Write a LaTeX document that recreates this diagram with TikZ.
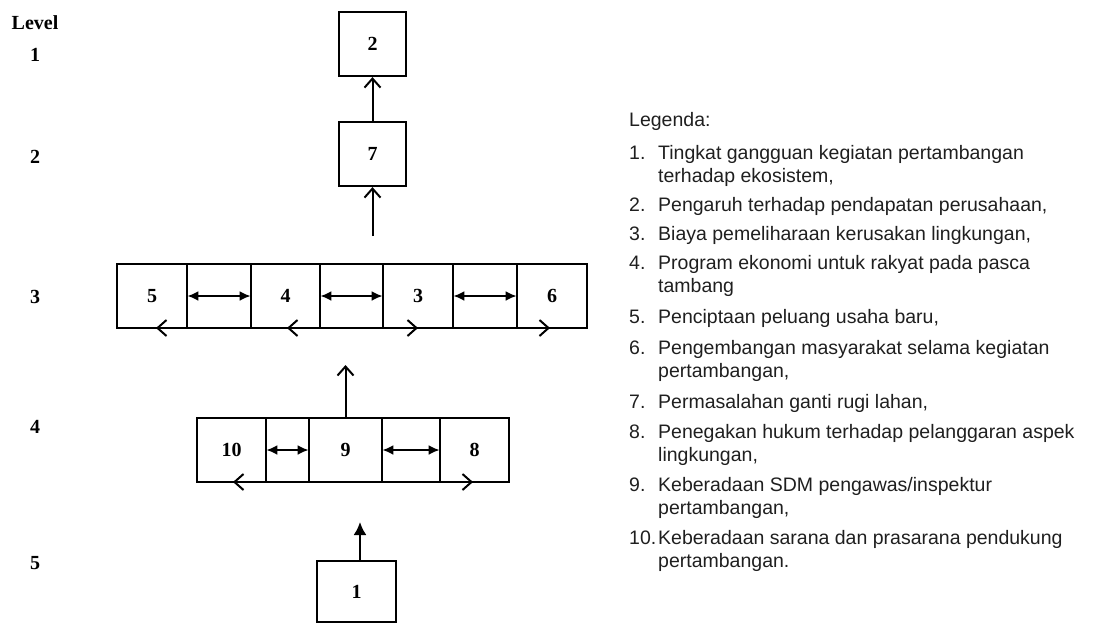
\documentclass[tikz,border=0pt]{standalone}
\usepackage{fontspec}
\setmainfont{Liberation Serif}
\newfontfamily\legfont{Liberation Sans}
\usetikzlibrary{arrows.meta}
\begin{document}
\begin{tikzpicture}[x=1pt,y=-1pt,
  cell/.style={draw, line width=2.2pt, inner sep=0pt, minimum height=64pt,
    font=\bfseries\fontsize{20}{24}\selectfont},
  lvl/.style={font=\bfseries\fontsize{20}{24}\selectfont, inner sep=0pt},
  dbl/.style={line width=2pt, {Latex[length=11pt,width=10pt]}-{Latex[length=11pt,width=10pt]}, shorten <=1.5pt, shorten >=1.5pt},
  opena/.style={line width=2pt, -{Straight Barb[length=9pt,width=16pt]}},
  filla/.style={line width=2.2pt, -{Latex[length=13pt,width=13pt]}},
  leg/.style={font=\legfont\fontsize{19.5}{23}\selectfont, anchor=base west, inner sep=0pt, text=black!88}
]
\useasboundingbox (0,0) rectangle (1100,624);

% level labels
\node[lvl] (lv) at (35,23) {Level};
\node[lvl] (lv1) at (35,55) {1};
\node[lvl] (lv2) at (35,157) {2};
\node[lvl] (lv3) at (35,297) {3};
\node[lvl] (lv4) at (35,427) {4};
\node[lvl] (lv5) at (35,563) {5};

% level 1 and 2
\node[cell, minimum width=67pt] (b2) at (372.5,44) {2};
\node[cell, minimum width=67pt] (b7) at (372.5,154) {7};

% level 3
\node[cell, minimum width=70pt] (c5) at (152,296) {5};
\node[cell, minimum width=64pt] (a54) at (219,296) {};
\node[cell, minimum width=69pt] (c4) at (285.5,296) {4};
\node[cell, minimum width=63pt] (a43) at (351.5,296) {};
\node[cell, minimum width=70pt] (c3) at (418,296) {3};
\node[cell, minimum width=64pt] (a36) at (485,296) {};
\node[cell, minimum width=70pt] (c6) at (552,296) {6};

% level 4
\node[cell, minimum width=69pt] (c10) at (231.5,450) {10};
\node[cell, minimum width=43pt] (a109) at (287.5,450) {};
\node[cell, minimum width=73pt] (c9) at (345.5,450) {9};
\node[cell, minimum width=58pt] (a98) at (411,450) {};
\node[cell, minimum width=69pt] (c8) at (474.5,450) {8};

% level 5
\node[cell, minimum width=79pt, minimum height=61pt] (b1) at (356.5,591.5) {1};

% vertical connectors
\draw[opena] (b7.north) -- (b2.south);
\coordinate (f7) at (372.5,236);
\draw[opena] (f7) -- (b7.south);
\coordinate (f9) at (345.5,365);
\draw[opena] (c9.north) -- (f9);
\coordinate (f1) at (360,522);
\draw[filla] (b1.north -| f1) -- (f1);

% double arrows inside cells
\draw[dbl] (a54.west) -- (a54.east);
\draw[dbl] (a43.west) -- (a43.east);
\draw[dbl] (a36.west) -- (a36.east);
\draw[dbl] (a109.west) -- (a109.east);
\draw[dbl] (a98.west) -- (a98.east);

% arrowheads on bottom lines
\coordinate (t5) at (156,328);
\coordinate (t4) at (287,328);
\coordinate (t3) at (418,328);
\coordinate (t6) at (550,328);
\coordinate (t10) at (233,482);
\coordinate (t8) at (473,482);
\draw[opena] ([xshift=10pt]t5) -- (t5);
\draw[opena] ([xshift=10pt]t4) -- (t4);
\draw[opena] ([xshift=-10pt]t3) -- (t3);
\draw[opena] ([xshift=-10pt]t6) -- (t6);
\draw[opena] ([xshift=10pt]t10) -- (t10);
\draw[opena] ([xshift=-10pt]t8) -- (t8);

% legend
\node[leg] (lg) at (629,126) {Legenda:};
\node[leg] (n1) at (629,159) {1.};
\node[leg] (l1a) at (658,159) {Tingkat gangguan kegiatan pertambangan};
\node[leg] (l1b) at (658,182) {terhadap ekosistem,};
\node[leg] (n2) at (629,211) {2.};
\node[leg] (l2) at (658,211) {Pengaruh terhadap pendapatan perusahaan,};
\node[leg] (n3) at (629,240) {3.};
\node[leg] (l3) at (658,240) {Biaya pemeliharaan kerusakan lingkungan,};
\node[leg] (n4) at (629,269) {4.};
\node[leg] (l4a) at (658,269) {Program ekonomi untuk rakyat pada pasca};
\node[leg] (l4b) at (658,292) {tambang};
\node[leg] (n5) at (629,323) {5.};
\node[leg] (l5) at (658,323) {Penciptaan peluang usaha baru,};
\node[leg] (n6) at (629,354) {6.};
\node[leg] (l6a) at (658,354) {Pengembangan masyarakat selama kegiatan};
\node[leg] (l6b) at (658,377) {pertambangan,};
\node[leg] (n7) at (629,408) {7.};
\node[leg] (l7) at (658,408) {Permasalahan ganti rugi lahan,};
\node[leg] (n8) at (629,438) {8.};
\node[leg] (l8a) at (658,438) {Penegakan hukum terhadap pelanggaran aspek};
\node[leg] (l8b) at (658,461) {lingkungan,};
\node[leg] (n9) at (629,491) {9.};
\node[leg] (l9a) at (658,491) {Keberadaan SDM pengawas/inspektur};
\node[leg] (l9b) at (658,514) {pertambangan,};
\node[leg] (n10) at (629,544) {10.};
\node[leg] (l10a) at (658,544) {Keberadaan sarana dan prasarana pendukung};
\node[leg] (l10b) at (658,567) {pertambangan.};
\end{tikzpicture}
\end{document}
